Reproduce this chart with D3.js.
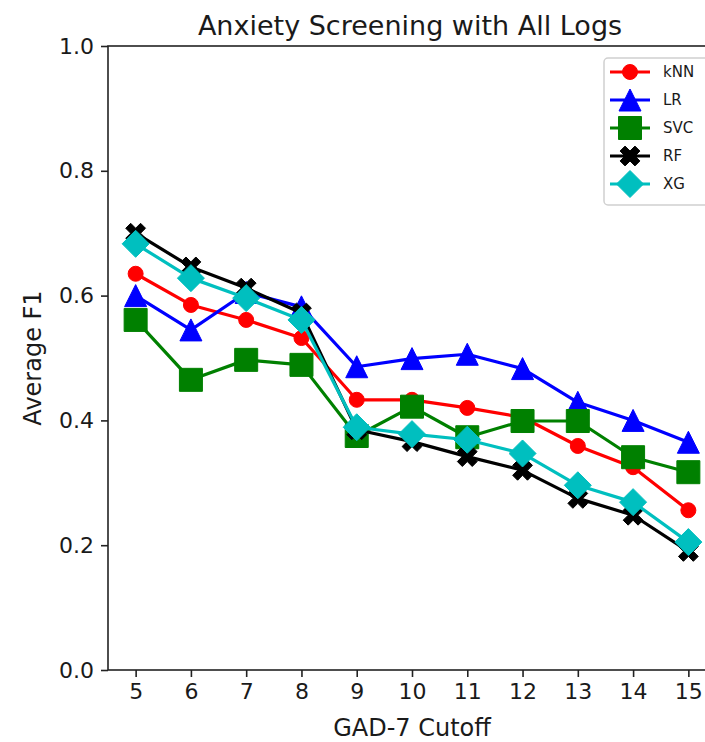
<!DOCTYPE html>
<html>
<head>
<meta charset="utf-8">
<script src="https://cdn.jsdelivr.net/npm/d3@7"></script>
<style>
  body { margin: 0; background: #fff; }
  text { font-family: "DejaVu Sans", sans-serif; fill: #1a1a1a; }
</style>
</head>
<body>
<svg id="chart" width="705" height="742"></svg>
<script>
  // data
  const cutoffs = [5, 6, 7, 8, 9, 10, 11, 12, 13, 14, 15];
  const knn = [0.635, 0.585, 0.561, 0.532, 0.433, 0.433, 0.420, 0.405, 0.359, 0.325, 0.256];
  const lr  = [0.600, 0.545, 0.605, 0.582, 0.486, 0.499, 0.506, 0.483, 0.429, 0.400, 0.365];
  const svc = [0.561, 0.465, 0.497, 0.489, 0.375, 0.422, 0.373, 0.399, 0.399, 0.341, 0.317];
  const rf  = [0.700, 0.646, 0.612, 0.572, 0.385, 0.366, 0.342, 0.320, 0.275, 0.248, 0.190];
  const xg  = [0.683, 0.628, 0.596, 0.561, 0.389, 0.378, 0.369, 0.347, 0.296, 0.269, 0.205];
  const yTicks = [0.0, 0.2, 0.4, 0.6, 0.8, 1.0];

  const series = [
    { name: "kNN", values: knn, color: "#ff0000", marker: "circle", size: 15 },
    { name: "LR", values: lr, color: "#0000ff", marker: "triangle", size: 22 },
    { name: "SVC", values: svc, color: "#008000", marker: "square", size: 23 },
    { name: "RF", values: rf, color: "#000000", marker: "x", size: 21 },
    { name: "XG", values: xg, color: "#00bfbf", marker: "diamond", size: 27 }
  ];

  const margin = { top: 46, right: -11, bottom: 72, left: 108 };
  const svg = d3.select("#chart"),
    width = +svg.attr("width") - margin.left - margin.right,
    height = +svg.attr("height") - margin.top - margin.bottom;

  const x = d3.scaleLinear().domain([4.5, 15.5]).range([0, width]);
  const y = d3.scaleLinear().domain([0, 1]).range([height, 0]);

  // marker shapes, s = full size in px
  function markerPath(type, s) {
    const r = s / 2;
    if (type === "circle") return `M${r},0A${r},${r},0,1,1,${-r},0A${r},${r},0,1,1,${r},0Z`;
    if (type === "square") return `M${-r},${-r}H${r}V${r}H${-r}Z`;
    if (type === "triangle") return `M0,${-r}L${r},${r}L${-r},${r}Z`;
    if (type === "diamond") return `M0,${-r}L${r},0L0,${r}L${-r},0Z`;
    // filled x: a thick plus rotated 45 degrees
    const a = r / 3, b = r;
    const pts = [[-a,-b],[a,-b],[a,-a],[b,-a],[b,a],[a,a],[a,b],[-a,b],[-a,a],[-b,a],[-b,-a],[-a,-a]];
    const c = Math.SQRT1_2;
    return "M" + pts.map(p => [(p[0] - p[1]) * c, (p[0] + p[1]) * c].join(",")).join("L") + "Z";
  }

  const g = svg.append("g").attr("transform", `translate(${margin.left},${margin.top})`);

  // axes
  const xAxis = g.append("g")
    .attr("transform", `translate(0,${height})`)
    .call(d3.axisBottom(x).tickValues(cutoffs).tickFormat(d3.format("d")).tickSize(7).tickPadding(6));
  const yAxis = g.append("g")
    .call(d3.axisLeft(y).tickValues(yTicks).tickFormat(d3.format(".1f")).tickSize(7).tickPadding(7));
  [xAxis, yAxis].forEach(ax => {
    ax.select(".domain").remove();
    ax.selectAll(".tick line").attr("stroke", "#222").attr("stroke-width", 1.6);
    ax.selectAll(".tick text").attr("font-size", 22).attr("font-family", "DejaVu Sans, sans-serif").attr("fill", "#1a1a1a");
  });

  // series
  const line = d3.line().x((d, i) => x(cutoffs[i])).y(d => y(d));
  series.forEach(s => {
    g.append("path")
      .datum(s.values)
      .attr("d", line)
      .attr("fill", "none")
      .attr("stroke", s.color)
      .attr("stroke-width", 3.2)
      .attr("stroke-linejoin", "round");
    g.selectAll(null)
      .data(s.values)
      .enter().append("path")
      .attr("transform", (d, i) => `translate(${x(cutoffs[i])},${y(d)})`)
      .attr("d", markerPath(s.marker, s.size))
      .attr("fill", s.color)
      .attr("stroke", s.color)
      .attr("stroke-width", 1);
  });

  // frame
  g.append("rect")
    .attr("width", width).attr("height", height)
    .attr("fill", "none").attr("stroke", "#222").attr("stroke-width", 1.6);

  // title and axis labels
  svg.append("text")
    .attr("x", margin.left + width / 2 - 2).attr("y", 35)
    .attr("text-anchor", "middle").attr("font-size", 27)
    .text("Anxiety Screening with All Logs");
  svg.append("text")
    .attr("x", margin.left + width / 2).attr("y", 736)
    .attr("text-anchor", "middle").attr("font-size", 24)
    .text("GAD-7 Cutoff");
  svg.append("text")
    .attr("transform", `translate(41,${margin.top + height / 2}) rotate(-90)`)
    .attr("text-anchor", "middle").attr("font-size", 24)
    .text("Average F1");

  // legend
  const legend = svg.append("g").attr("transform", "translate(604,58)");
  legend.append("rect")
    .attr("width", 120).attr("height", 147).attr("rx", 4)
    .attr("fill", "#fff").attr("fill-opacity", 0.8)
    .attr("stroke", "#d0d0d0").attr("stroke-width", 1.5);
  const item = legend.selectAll(".item")
    .data(series)
    .enter().append("g")
    .attr("class", "item")
    .attr("transform", (d, i) => `translate(0,${14 + i * 28})`);
  item.append("line")
    .attr("x1", 6).attr("x2", 46)
    .attr("stroke", d => d.color).attr("stroke-width", 3.2);
  item.append("path")
    .attr("transform", "translate(26,0)")
    .attr("d", d => markerPath(d.marker, d.size))
    .attr("fill", d => d.color).attr("stroke", d => d.color);
  item.append("text")
    .attr("x", 59).attr("dy", "0.36em")
    .attr("font-size", 15)
    .text(d => d.name);
</script>
</body>
</html>
